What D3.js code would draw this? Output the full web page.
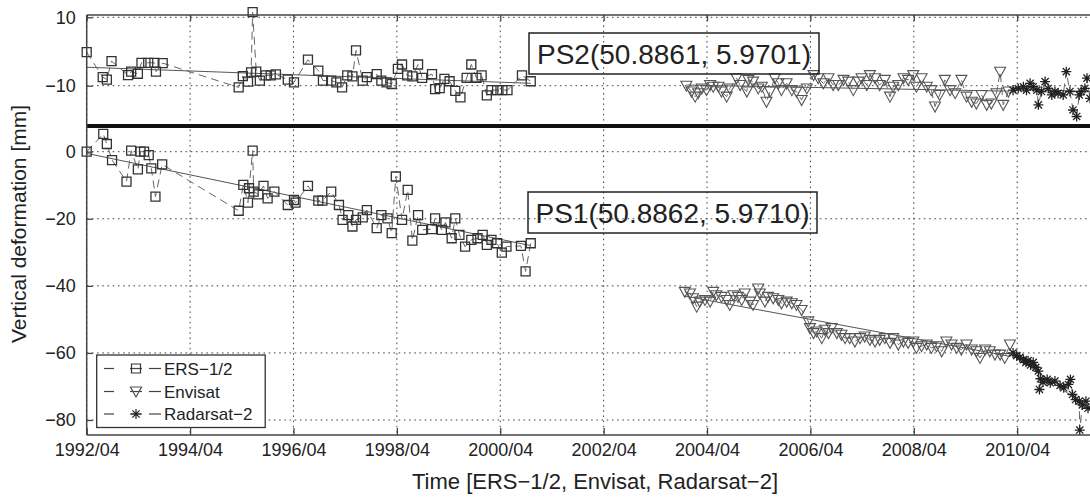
<!DOCTYPE html>
<html><head><meta charset="utf-8">
<script src="https://cdn.jsdelivr.net/npm/d3@7"></script>
<style>
html,body{margin:0;padding:0;background:#fff;overflow:hidden;}
text{font-family:"Liberation Sans",Arial,sans-serif;fill:#222;}
</style></head>
<body>
<svg id="c" width="1090" height="497"></svg>
<script>
// ---------------- data (decimal year, mm) ----------------
const xTickValues = [1992.25,1994.25,1996.25,1998.25,2000.25,2002.25,2004.25,2006.25,2008.25,2010.25];
const xTickLabels = ["1992/04","1994/04","1996/04","1998/04","2000/04","2002/04","2004/04","2006/04","2008/04","2010/04"];
const yTicksTop = [10,-10];
const yTicksBottom = [0,-20,-40,-60,-80];
const seriesNames = ["ERS\u22121/2","Envisat","Radarsat\u22122"];

const ersPS2 = [[1992.25,-0.2],[1992.56,-7.5],[1992.64,-8.2],[1992.73,-2.8],[1993.05,-6.9],[1993.11,-5.9],[1993.24,-6.5],[1993.31,-3.3],[1993.44,-3.3],[1993.56,-3.3],[1993.59,-5.9],[1993.72,-3.4],
 [1995.19,-10.5],[1995.27,-7.2],[1995.37,-8.8],[1995.43,-6.1],[1995.46,11.5],[1995.53,-5.9],[1995.60,-8.5],[1995.71,-7.0],[1995.81,-7.0],[1995.91,-6.7],
 [1996.14,-8.2],[1996.26,-9.0],[1996.53,-2.4],[1996.73,-5.6],[1996.82,-8.5],[1996.98,-8.5],[1997.08,-9.0],[1997.19,-10.5],[1997.29,-7.0],[1997.39,-7.3],[1997.46,0.3],
 [1997.59,-8.5],[1997.67,-7.5],[1997.86,-6.6],[1997.95,-8.5],[1998.05,-9.0],[1998.15,-9.5],[1998.27,-5.1],[1998.35,-3.8],[1998.45,-7.0],[1998.55,-7.3],[1998.66,-3.8],
 [1998.74,-7.7],[1998.93,-6.6],[1998.99,-11.0],[1999.08,-10.7],[1999.17,-8.0],[1999.27,-8.7],[1999.38,-11.5],[1999.48,-13.4],[1999.60,-7.7],[1999.69,-3.8],[1999.79,-7.7],
 [1999.89,-7.0],[1999.99,-12.8],[2000.08,-11.3],[2000.19,-11.3],[2000.29,-11.3],[2000.39,-11.3],[2000.67,-7.0],[2000.84,-8.7]];

const envPS2 = [[2003.85,-10.0],[2003.95,-11.7],[2004.02,-13.2],[2004.08,-12.2],[2004.15,-10.8],[2004.24,-11.3],[2004.31,-9.8],[2004.37,-10.3],[2004.47,-10.3],[2004.53,-11.7],
 [2004.63,-13.2],[2004.69,-10.8],[2004.82,-7.8],[2004.89,-9.8],[2005.02,-11.7],[2005.05,-8.3],[2005.14,-8.8],[2005.24,-10.8],[2005.31,-10.3],[2005.40,-14.7],[2005.47,-11.7],
 [2005.56,-7.8],[2005.63,-9.3],[2005.69,-11.3],[2005.79,-9.3],[2005.89,-11.3],[2005.98,-11.7],[2006.08,-14.2],[2006.18,-10.8],[2006.31,-6.9],[2006.40,-7.8],[2006.50,-9.3],
 [2006.60,-7.8],[2006.69,-9.8],[2006.79,-9.8],[2006.89,-8.3],[2006.98,-8.8],[2007.08,-11.3],[2007.18,-8.8],[2007.24,-7.8],[2007.34,-9.8],[2007.40,-6.9],[2007.50,-7.8],
 [2007.59,-9.8],[2007.69,-8.3],[2007.79,-13.2],[2007.85,-10.3],[2007.95,-9.8],[2008.05,-7.8],[2008.14,-8.3],[2008.24,-6.9],[2008.30,-10.3],[2008.40,-7.8],[2008.50,-10.3],
 [2008.59,-11.3],[2008.66,-16.1],[2008.75,-12.7],[2008.85,-8.3],[2008.95,-11.3],[2009.05,-12.2],[2009.17,-8.3],[2009.27,-13.2],[2009.37,-14.7],[2009.46,-15.2],[2009.56,-12.7],
 [2009.66,-15.6],[2009.75,-15.2],[2009.85,-12.2],[2009.92,-5.9],[2009.98,-15.6],[2010.08,-11.7]];

const rsPS2 = [[2010.17,-11.3],[2010.27,-10.8],[2010.37,-10.3],[2010.43,-11.3],[2010.50,-9.3],[2010.56,-10.3],[2010.63,-11.3],[2010.66,-15.6],[2010.72,-11.7],[2010.79,-8.8],
 [2010.85,-10.8],[2010.92,-12.7],[2010.98,-11.7],[2011.04,-12.2],[2011.14,-12.7],[2011.20,-5.9],[2011.27,-11.7],[2011.33,-17.1],[2011.40,-19.0],[2011.45,-12.7],[2011.49,-11.7],
 [2011.56,-10.8],[2011.60,-7.8],[2011.66,-13.7]];

const ersPS1 = [[1992.25,0],[1992.57,5.3],[1992.64,2.3],[1992.74,-2.5],[1993.02,-8.9],[1993.11,0.3],[1993.24,-5.3],[1993.29,0],[1993.36,0],[1993.45,-1.0],[1993.50,-5.0],[1993.58,-13.4],[1993.71,-3.8],
 [1995.19,-17.6],[1995.28,-9.9],[1995.37,-15.2],[1995.39,-10.9],[1995.46,0.3],[1995.48,-11.9],[1995.57,-12.7],[1995.67,-10.2],[1995.75,-13.9],[1995.88,-11.9],[1996.14,-15.9],
 [1996.26,-14.4],[1996.29,-15.2],[1996.53,-10.2],[1996.73,-14.6],[1996.81,-14.6],[1996.98,-11.9],[1997.13,-15.9],[1997.20,-20.3],[1997.31,-18.9],[1997.39,-22.3],[1997.46,-20.3],
 [1997.59,-19.6],[1997.67,-17.4],[1997.86,-22.8],[1997.95,-18.9],[1998.07,-19.9],[1998.15,-24.3],[1998.23,-7.4],[1998.35,-20.3],[1998.46,-11.4],[1998.55,-26.5],[1998.66,-18.9],
 [1998.74,-23.3],[1998.93,-23.1],[1998.99,-19.9],[1999.12,-23.3],[1999.19,-21.1],[1999.31,-25.8],[1999.38,-19.9],[1999.46,-24.8],[1999.57,-28.3],[1999.69,-26.3],[1999.81,-25.8],
 [1999.91,-24.8],[1999.99,-27.8],[2000.08,-26.3],[2000.19,-27.3],[2000.28,-30.1],[2000.37,-28.3],[2000.65,-28.1],[2000.74,-35.7],[2000.84,-27.3]];

const envPS1 = [[2003.82,-41.8],[2003.92,-42.3],[2003.98,-43.7],[2004.05,-46.2],[2004.11,-44.7],[2004.21,-44.2],[2004.31,-44.7],[2004.37,-41.8],[2004.43,-42.8],[2004.53,-43.3],
 [2004.63,-44.2],[2004.69,-45.7],[2004.76,-42.8],[2004.85,-43.3],[2004.92,-44.2],[2004.98,-42.3],[2005.08,-44.7],[2005.14,-45.7],[2005.24,-40.8],[2005.27,-42.3],[2005.37,-44.7],
 [2005.43,-43.3],[2005.53,-43.7],[2005.63,-44.2],[2005.69,-45.2],[2005.79,-44.7],[2005.89,-45.2],[2005.98,-45.7],[2006.08,-47.2],[2006.21,-50.6],[2006.24,-52.6],[2006.31,-54.1],
 [2006.37,-53.6],[2006.47,-55.6],[2006.53,-53.1],[2006.60,-54.1],[2006.66,-52.6],[2006.76,-54.1],[2006.85,-54.6],[2006.92,-55.6],[2007.01,-55.6],[2007.11,-56.6],[2007.21,-55.6],
 [2007.30,-55.1],[2007.40,-56.1],[2007.50,-56.6],[2007.59,-56.1],[2007.69,-55.6],[2007.79,-57.0],[2007.85,-55.6],[2007.95,-57.5],[2008.05,-56.6],[2008.14,-57.0],[2008.24,-56.6],
 [2008.30,-58.5],[2008.40,-58.0],[2008.50,-57.5],[2008.59,-58.5],[2008.69,-58.0],[2008.79,-59.5],[2008.88,-56.6],[2008.98,-57.5],[2009.08,-58.5],[2009.17,-59.0],[2009.27,-57.5],
 [2009.37,-59.0],[2009.46,-59.5],[2009.53,-61.5],[2009.63,-59.0],[2009.72,-59.5],[2009.82,-60.5],[2009.92,-60.5],[2010.01,-61.5],[2010.11,-57.5]];

const rsPS1 = [[2010.17,-60.0],[2010.24,-60.8],[2010.30,-61.3],[2010.37,-62.0],[2010.42,-62.8],[2010.46,-62.3],[2010.51,-63.6],[2010.56,-62.8],[2010.61,-64.3],[2010.66,-65.4],
 [2010.68,-70.9],[2010.70,-67.7],[2010.75,-68.7],[2010.83,-67.9],[2010.89,-68.9],[2010.98,-68.4],[2011.08,-69.7],[2011.15,-70.4],[2011.24,-69.4],[2011.28,-67.9],[2011.32,-72.4],
 [2011.38,-73.9],[2011.45,-74.4],[2011.46,-83.0],[2011.51,-75.5],[2011.58,-74.4],[2011.62,-76.5]];

const trendErsPS2 = [[1992.25,-4.6],[2000.84,-9.3]];
const trendEnvPS2 = [[2003.85,-9.8],[2010.1,-11.6]];
const trendRsPS2  = [[2010.15,-10.8],[2011.7,-11.8]];
const trendErsPS1 = [[1992.25,-0.5],[2000.84,-28.0]];
const trendEnvPS1 = [[2003.8,-43.0],[2010.1,-61.0]];
const trendRsPS1  = [[2010.15,-60.5],[2011.7,-77.0]];

// ---------------- layout ----------------
const svg = d3.select("#c");
const L = 86.7, R = 1103, T = 15, B = 435, MID = 126;
const x = d3.scaleLinear().domain([1992.25, 2011.91]).range([L, R]);
const yTop = d3.scaleLinear().domain([10, -10]).range([17.3, 85.7]);
const yBot = d3.scaleLinear().domain([0, -80]).range([151.7, 420]);

// grid
const grid = svg.append("g").attr("stroke","#444").attr("stroke-width",1).attr("stroke-dasharray","1.6,3.6").attr("fill","none");
xTickValues.forEach(v => grid.append("line").attr("x1",x(v)).attr("x2",x(v)).attr("y1",T).attr("y2",B));
yTicksTop.forEach(v => grid.append("line").attr("x1",L).attr("x2",R).attr("y1",yTop(v)).attr("y2",yTop(v)));
yTicksBottom.forEach(v => grid.append("line").attr("x1",L).attr("x2",R).attr("y1",yBot(v)).attr("y2",yBot(v)));

// markers
const sq = (px,py) => `M${px-4.5},${py-4.5}h9v9h-9z`;
const tri = (px,py) => `M${px-5.5},${py-4.5}L${px+5.5},${py-4.5}L${px},${py+5.5}Z`;
const star = (px,py) => `M${px-5},${py}H${px+5}M${px},${py-5}V${py+5}M${px-3.6},${py-3.6}L${px+3.6},${py+3.6}M${px-3.6},${py+3.6}L${px+3.6},${py-3.6}`;

function drawSeries(data, ys, markerFn, mColor, mWidth, trend){
  const line = d3.line().x(d=>x(d[0])).y(d=>ys(d[1]));
  svg.append("path").attr("d", line(trend)).attr("fill","none").attr("stroke","#555").attr("stroke-width",1);
  svg.append("path").attr("d", line(data)).attr("fill","none").attr("stroke","#666").attr("stroke-width",1).attr("stroke-dasharray","8,5");
  svg.append("g").selectAll("path").data(data).join("path")
    .attr("d", d => markerFn(x(d[0]), ys(d[1])))
    .attr("fill","none").attr("stroke",mColor).attr("stroke-width",mWidth);
}
drawSeries(ersPS2, yTop, sq, "#333", 1.3, trendErsPS2);
drawSeries(envPS2, yTop, tri, "#555", 1.1, trendEnvPS2);
drawSeries(rsPS2, yTop, star, "#222", 1.3, trendRsPS2);
drawSeries(ersPS1, yBot, sq, "#333", 1.3, trendErsPS1);
drawSeries(envPS1, yBot, tri, "#555", 1.1, trendEnvPS1);
drawSeries(rsPS1, yBot, star, "#222", 1.3, trendRsPS1);

// separator and borders
svg.append("line").attr("x1",L).attr("x2",R).attr("y1",MID).attr("y2",MID).attr("stroke","#111").attr("stroke-width",4);
const border = svg.append("g").attr("stroke","#444").attr("stroke-width",1.5);
border.append("line").attr("x1",L).attr("x2",L).attr("y1",T).attr("y2",B);
border.append("line").attr("x1",L).attr("x2",R).attr("y1",T).attr("y2",T);
border.append("line").attr("x1",L).attr("x2",R).attr("y1",B).attr("y2",B);

// axes
function styleAxis(g){
  g.select(".domain").remove();
  g.selectAll(".tick line").attr("stroke","#444").attr("stroke-width",1.3);
  g.selectAll(".tick text").attr("fill","#222").style("font-size","18px").style("font-family","'Liberation Sans',Arial,sans-serif");
}
svg.append("g").attr("transform",`translate(0,${B})`)
  .call(d3.axisBottom(x).tickValues(xTickValues).tickFormat((d,i)=>xTickLabels[i]).tickSize(-7).tickPadding(8))
  .call(styleAxis);
svg.append("g").attr("transform",`translate(0,${T})`)
  .call(d3.axisTop(x).tickValues(xTickValues).tickFormat("").tickSize(-6))
  .call(styleAxis);
const fmt = d => d3.format("")(d).replace("-","\u2212");
svg.append("g").attr("transform",`translate(${L},0)`)
  .call(d3.axisLeft(yTop).tickValues(yTicksTop).tickFormat(fmt).tickSize(-6).tickPadding(11))
  .call(styleAxis);
svg.append("g").attr("transform",`translate(${L},0)`)
  .call(d3.axisLeft(yBot).tickValues(yTicksBottom).tickFormat(fmt).tickSize(-6).tickPadding(11))
  .call(styleAxis);

// axis titles
svg.append("text").attr("x",595).attr("y",489).attr("text-anchor","middle").style("font-size","22px")
  .text("Time [ERS\u22121/2, Envisat, Radarsat\u22122]");
svg.append("text").attr("transform","translate(26,224) rotate(-90)").attr("text-anchor","middle").style("font-size","21px")
  .text("Vertical deformation [mm]");

// annotation boxes
function note(x0,x1,y0,y1,txt){
  svg.append("rect").attr("x",x0).attr("y",y0).attr("width",x1-x0).attr("height",y1-y0)
    .attr("fill","none").attr("stroke","#222").attr("stroke-width",1.5);
  svg.append("text").attr("x",(x0+x1)/2).attr("y",y1-10).attr("text-anchor","middle").style("font-size","28px").text(txt);
}
note(529,819,33,74,"PS2(50.8861, 5.9701)");
note(528,817,192,233,"PS1(50.8862, 5.9710)");

// legend
const lg = svg.append("g");
lg.append("rect").attr("x",96.7).attr("y",355).attr("width",168.5).attr("height",72.5).attr("fill","#fff").attr("stroke","#333").attr("stroke-width",1.3);
const markers = [sq, tri, star];
const mCol = ["#333","#555","#222"];
[368.5,391.5,414].forEach((yy,i)=>{
  [[104,114],[130,142],[149,161]].forEach(s=>lg.append("line").attr("x1",s[0]).attr("x2",s[1]).attr("y1",yy).attr("y2",yy).attr("stroke","#444").attr("stroke-width",1.2));
  lg.append("path").attr("d",markers[i](136,yy)).attr("fill","none").attr("stroke",mCol[i]).attr("stroke-width",1.2);
  lg.append("text").attr("x",164).attr("y",yy+6).style("font-size","17px").text(seriesNames[i]);
});
</script>
</body></html>
